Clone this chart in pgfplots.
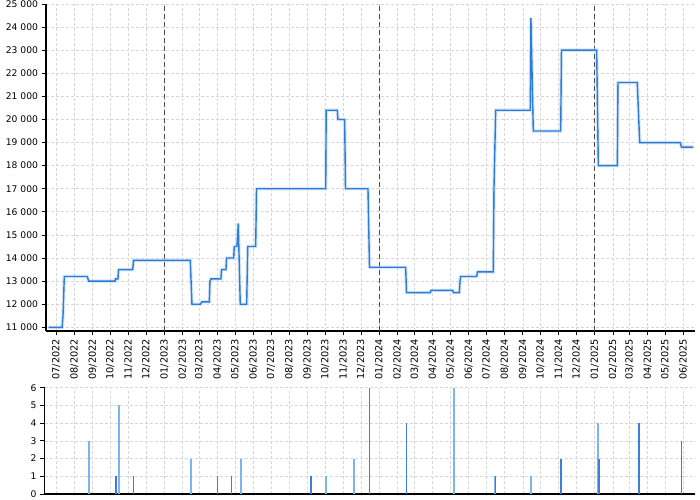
\documentclass[border=0pt]{standalone}
\usepackage{fontspec}
\setmainfont{DejaVu Sans}
\usepackage{pgfplots}
\pgfplotsset{compat=1.18}
\usepackage{pgfplotstable}
\definecolor{lineblue}{RGB}{44,125,215}
\definecolor{barlight}{RGB}{124,181,236}
\definecolor{bardark}{RGB}{58,128,212}
\definecolor{gridgray}{RGB}{215,215,215}

% x = days since 2022-07-01
\pgfplotstableread{
x y
-13 11000
10 11000
11.6 11500
13.8 13200
52.8 13200
55.2 13000
99.9 13000
100.8 13100
105 13100
105.9 13500
130 13500
131.4 13900
227.9 13900
230.7 12000
244.9 12000
247.5 12100
260.2 12100
261.3 13000
263 13100
280 13100
280.9 13500
288.5 13500
289.4 14000
301.6 14000
302.6 14500
307.2 14500
309.4 15500
312.8 12000
323.7 12000
325.5 14500
339 14500
340.4 17000
458 17000
458.8 20400
477.7 20400
478.8 20000
490.2 20000
491.6 17000
529.8 17000
532.4 13600
593.9 13600
595.2 12500
635.7 12500
636.9 12600
673.7 12600
675.1 12500
685 12500
686.2 13000
687.3 13200
714.5 13200
715.9 13400
742.7 13400
743.9 17000
746.8 20400
805.6 20400
806.7 24400
810.7 19500
857.3 19500
858.6 23000
918.4 23000
921.2 18000
953.5 18000
954.6 21600
987.4 21600
991.5 19000
1060.5 19000
1062.5 18800
1082.6 18800
}\maindata

\pgfplotstableread{
x y
55.2 3
106.2 5
228.5 2
313.5 2
458 1
505.5 2
675.4 6
745 1
806.8 1
921.2 4
}\barslight

\pgfplotstableread{
x y
101.6 1
131 1
273.7 1
297.5 1
433 1
532 6
595 4
746 1
857.8 2
922.3 2
990.2 4
989.4 1
1062.2 3
}\barsdark

\begin{document}
\begin{tikzpicture}
\useasboundingbox (0bp,0bp) rectangle (700bp,500bp);
\pgfplotsset{
  every axis/.append style={
    scale only axis, anchor=south west,
    axis x line*=bottom, axis y line*=left,
    tick align=outside, major tick length=4.5bp,
    tick style={black, line width=0.8bp},
    axis line style={black, line width=1.1bp},
    grid=major,
    major grid style={gridgray, line width=0.7bp, dash pattern=on 3bp off 2bp},
    tick label style={font=\fontsize{9.2}{10}\selectfont},
    /pgf/number format/assume math mode=true,
    xtick={0,31,62,92,123,153,184,215,243,274,304,335,365,396,427,457,488,518,549,580,609,640,670,701,731,762,793,823,854,884,915,946,974,1005,1035,1066},
  }
}
\begin{axis}[
  at={(46bp,169bp)}, width=649bp, height=327bp,
  xmin=-17.3, xmax=1085.5, ymin=10840, ymax=25000,
  xticklabels={07/2022,08/2022,09/2022,10/2022,11/2022,12/2022,01/2023,02/2023,03/2023,04/2023,05/2023,06/2023,07/2023,08/2023,09/2023,10/2023,11/2023,12/2023,01/2024,02/2024,03/2024,04/2024,05/2024,06/2024,07/2024,08/2024,09/2024,10/2024,11/2024,12/2024,01/2025,02/2025,03/2025,04/2025,05/2025,06/2025},
  xticklabel style={rotate=90, anchor=east, font=\fontsize{9.8}{10}\selectfont},
  ytick={11000,12000,...,25000},
  yticklabels={11 000,12 000,13 000,14 000,15 000,16 000,17 000,18 000,19 000,20 000,21 000,22 000,23 000,24 000,25 000},
]
\addplot[black!70, line width=0.8bp, dash pattern=on 5bp off 3bp] coordinates {(184,10840) (184,25000)};
\addplot[black!70, line width=0.8bp, dash pattern=on 5bp off 3bp] coordinates {(549,10840) (549,25000)};
\addplot[black!70, line width=0.8bp, dash pattern=on 5bp off 3bp] coordinates {(915,10840) (915,25000)};
\addplot[lineblue!30, line width=3.5bp, opacity=0.6] table {\maindata};
\addplot[lineblue, line width=1.4bp] table {\maindata};
\end{axis}

\begin{axis}[
  at={(44.5bp,6bp)}, width=650.5bp, height=106.3bp,
  xmin=-19.9, xmax=1085.5, ymin=0, ymax=6,
  xticklabels={}, xtick style={draw=none},
  ytick={0,1,...,6},
]
\addplot[ycomb, barlight, line width=2bp] table {\barslight};
\addplot[ycomb, bardark, line width=1.2bp] table {\barsdark};
\end{axis}
\end{tikzpicture}
\end{document}
